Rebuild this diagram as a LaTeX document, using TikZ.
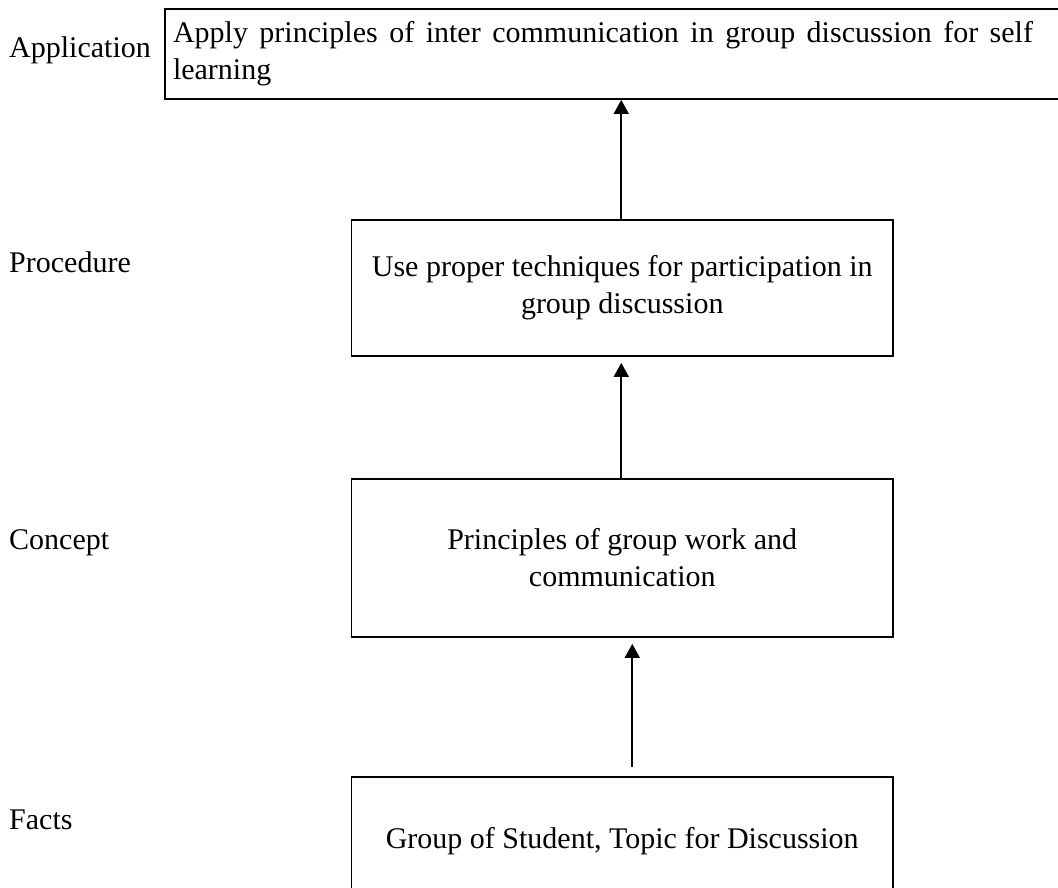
\documentclass[tikz,border=0pt]{standalone}
\usepackage{fontspec}
\setmainfont{Liberation Serif}
\usetikzlibrary{arrows.meta,calc}
\begin{document}
\begin{tikzpicture}[x=1pt,y=-1pt,
  box/.style={draw=black,line width=1.8pt,inner sep=0pt,font=\fontsize{30}{37}\selectfont},
  lbl/.style={anchor=base west,inner sep=0pt,font=\fontsize{30}{37}\selectfont},
  arr/.style={line width=1.8pt,-{Triangle[width=15pt,length=14pt]}}]
\useasboundingbox (0,0) rectangle (1058,888);
\fill[white] (0,0) rectangle (1058,888);
% boxes
\node[box,minimum width=905pt,minimum height=90pt,text width=889pt,align=flush left,
      inner xsep=8pt] (app) at (617.5,54)
  {\fontsize{30}{36}\selectfont\makebox[860pt][s]{Apply principles of inter communication in group discussion for self}\\learning};
\node[box,minimum width=541.5pt,minimum height=136pt,align=center] (proc) at (622.25,288)
  {Use proper techniques for participation in\\group discussion};
\node[box,minimum width=541.5pt,minimum height=158pt,align=center] (conc) at (622.25,558)
  {Principles of group work and\\communication};
\node[box,minimum width=541.5pt,minimum height=128pt,align=center] (facts) at (622.25,841)
  {Group of Student, Topic for Discussion};
% level labels
\node[lbl] (lapp) at (9,58) {Application};
\node[lbl] (lproc) at (9,272) {Procedure};
\node[lbl] (lconc) at (9,549) {Concept};
\node[lbl] (lfacts) at (9,829) {Facts};
% arrows
\draw[arr] ($(proc.north)+(-1,0)$) -- ($(proc.north |- app.south)+(-1,0)$);
\draw[arr] ($(conc.north)+(-1,0)$) -- ($(proc.south)+(-1,6)$);
\draw[arr] ($(facts.north)+(10,-9)$) -- ($(conc.south)+(10,6)$);
\end{tikzpicture}
\end{document}
